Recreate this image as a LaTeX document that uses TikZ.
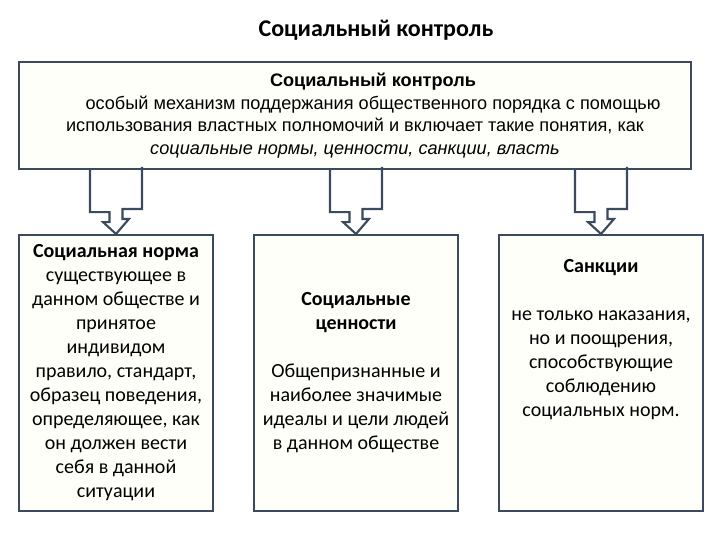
\documentclass[tikz,border=0pt]{standalone}
\usepackage{fontspec}
\setmainfont{Carlito}
\newfontfamily\arialfont{Liberation Sans}
\usepackage{tikz}
\usetikzlibrary{positioning,calc}
\definecolor{slateline}{RGB}{59,74,92}
\definecolor{creamfill}{RGB}{255,255,250}

\begin{document}
\begin{tikzpicture}[x=0.75pt,y=-0.75pt,
  every node/.style={font=\fontsize{15}{18}\selectfont,text=black},
  cbox/.style={draw=slateline,line width=1.6pt,fill=creamfill,align=center,
    inner sep=0pt,minimum height=207pt},
  blockarr/.style={draw=slateline,line width=1.6pt,miter limit=10}]
\useasboundingbox (0,0) rectangle (720,540);
\node[font=\fontsize{18}{22}\selectfont\bfseries] (title) at (376,30) {Социальный контроль};
\node[cbox,minimum width=504pt,minimum height=80.25pt,
  font=\arialfont\fontsize{13.6}{17}\selectfont] (ctrl) at (355,115.5)
  {\hspace*{27pt}\textbf{Социальный контроль}\\
   \hspace*{27pt}особый механизм поддержания общественного порядка с помощью\\
   использования властных полномочий и включает такие понятия, как\\
   \textit{социальные нормы, ценности, санкции, власть}};
\node[cbox,minimum width=145.5pt] (norm) at (116,373)
  {\textbf{Социальная норма}\\ существующее в\\ данном обществе и\\ принятое\\
   индивидом\\ правило, стандарт,\\ образец поведения,\\ определяющее, как\\
   он должен вести\\ себя в данной\\ ситуации};
\node[cbox,minimum width=153pt] (value) at (356,373)
  {\textbf{Социальные}\\ \textbf{ценности}\\[18pt] Общепризнанные и\\
   наиболее значимые\\ идеалы и цели людей\\ в данном обществе};
\node[cbox,minimum width=153pt] (sanc) at (601,373) {};
\node[anchor=north,align=center] (sancText) at ($(sanc.north)+(0,21)$)
  {\textbf{Санкции}\\[18pt] не только наказания,\\ но и поощрения,\\
   способствующие\\ соблюдению\\ социальных норм.};
% hollow arrows
\draw[blockarr] (ctrl.south -| norm.north) ++(-26,0) -- ++(0,42) -- ++(19.5,0)
  -- ++(0,10) -- ++(-6.5,0) -- (norm.north) -- ++(13,-15) -- ++(-6.5,0)
  -- ++(0,-10) -- ++(19.5,0) -- ++(0,-42);
\draw[blockarr] (ctrl.south -| value.north) ++(-26,0) -- ++(0,42) -- ++(19.5,0)
  -- ++(0,10) -- ++(-6.5,0) -- (value.north) -- ++(13,-15) -- ++(-6.5,0)
  -- ++(0,-10) -- ++(19.5,0) -- ++(0,-42);
\draw[blockarr] (ctrl.south -| sanc.north) ++(-26,0) -- ++(0,42) -- ++(19.5,0)
  -- ++(0,10) -- ++(-6.5,0) -- (sanc.north) -- ++(13,-15) -- ++(-6.5,0)
  -- ++(0,-10) -- ++(19.5,0) -- ++(0,-42);
\end{tikzpicture}
\end{document}
